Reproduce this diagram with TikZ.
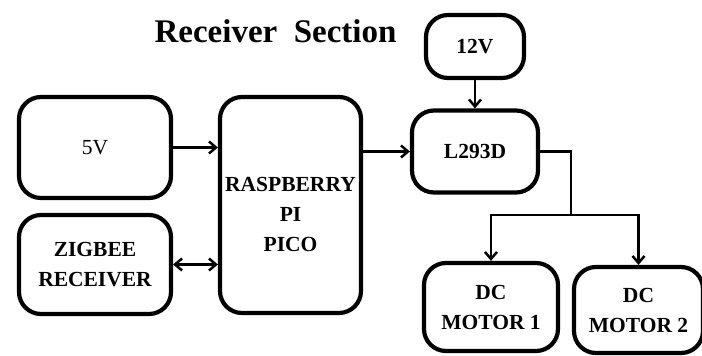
\documentclass[tikz,border=0pt]{standalone}
\usepackage{fontspec}
\setmainfont{Liberation Serif}
\usetikzlibrary{arrows.meta}
\tikzset{
  bloc/.style={draw,line width=4.2pt,rounded corners=22pt,align=center,
    font=\fontsize{21.5}{30}\selectfont\bfseries,inner sep=2pt},
  fleche/.style={line width=2.5pt,-{Straight Barb[length=7pt,width=12pt]}},
  bifleche/.style={line width=2.5pt,{Straight Barb[length=7pt,width=12pt]}-{Straight Barb[length=7pt,width=12pt]}},
  liaison/.style={line width=2.5pt}
}
\begin{document}
\begin{tikzpicture}[x=1pt,y=-1pt]
\useasboundingbox (0,0) rectangle (702,356);
\clip (0,0) rectangle (702,356);
\node[font=\fontsize{33}{36}\selectfont\bfseries,anchor=base] (titre) at (275.5,42) {Receiver\ \ Section};
\foreach \nom/\x/\y/\w/\h/\txt in {%
 v5/95/147.5/152/101/{\mdseries 5V},
 zigbee/95/264.5/152/99/{ZIGBEE\\RECEIVER},
 pico/290.5/205/141/216/{\rule{0pt}{33pt}RASPBERRY\\PI\\PICO},
 v12/475/46.5/98/63/{12V},
 l293/475/151.5/126/82/{L293D},
 m1/491/307/134/88/{DC\\MOTOR 1},
 m2/638.5/310/129/86/{DC\\MOTOR 2}}{
  \node[bloc,minimum width=\w pt,minimum height=\h pt] (\nom) at (\x,\y) {\txt};}
\draw[fleche] (v5.east) -- (v5.east -| pico.west);
\draw[bifleche] (zigbee.east) -- (zigbee.east -| pico.west);
\draw[fleche] (pico.east |- l293.west) -- (l293.west);
\draw[fleche] (v12) -- (l293);
\coordinate (jonction) at (571,215);
\draw[liaison] (l293.east) -| (jonction);
\draw[fleche] (jonction) -| (m1.north);
\draw[fleche] (jonction) -| (m2.north);
\end{tikzpicture}
\end{document}
